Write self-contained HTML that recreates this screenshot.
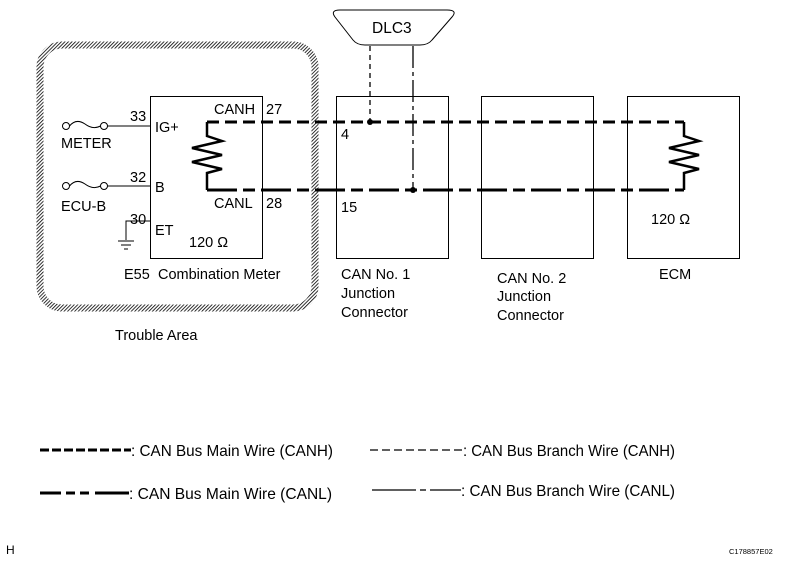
<!DOCTYPE html>
<html><head><meta charset="utf-8"><style>
html,body{margin:0;padding:0;background:#fff;}
svg{display:block;}
text{font-family:"Liberation Sans",Arial,sans-serif;font-size:14.5px;fill:#000;}
.lg{font-size:16px;}
</style></head><body>
<svg width="785" height="566" viewBox="0 0 785 566" xmlns="http://www.w3.org/2000/svg">
<defs>
<pattern id="hat" width="2.5" height="2.5" patternUnits="userSpaceOnUse" patternTransform="rotate(45)">
<rect width="2.5" height="2.5" fill="#fff"/><line x1="0" y1="0" x2="0" y2="2.5" stroke="#000" stroke-width="1.6"/>
</pattern>
</defs>
<rect x="40" y="45" width="275" height="263" rx="22" fill="none" stroke="url(#hat)" stroke-width="7"/>
<g fill="none" stroke="#000" stroke-width="1">
<rect x="150.5" y="96.5" width="112" height="162"/>
<rect x="336.5" y="96.5" width="112" height="162"/>
<rect x="481.5" y="96.5" width="112" height="162"/>
<rect x="627.5" y="96.5" width="112" height="162"/>
<path d="M340 10 L447 10 Q458 10 452 17 L432 40 Q428 45 420 45 L365 45 Q357 45 353 40 L335 17 Q330 10 340 10 Z"/>
<circle cx="66" cy="126" r="3.5"/><circle cx="104" cy="126" r="3.5"/>
<path d="M69.5 126 Q76 118 85 124 Q93 130 100.5 126"/>
<line x1="107.5" y1="126" x2="150" y2="126"/>
<circle cx="66" cy="186" r="3.5"/><circle cx="104" cy="186" r="3.5"/>
<path d="M69.5 186 Q76 178 85 184 Q93 190 100.5 186"/>
<line x1="107.5" y1="186" x2="150" y2="186"/>
<polyline points="150,221 126,221 126,240"/>
<line x1="118" y1="241" x2="134" y2="241"/>
<line x1="121" y1="245" x2="131" y2="245"/>
<line x1="124" y1="249" x2="128" y2="249"/>
</g>
<g fill="none" stroke="#000" stroke-width="2.5">
<polyline points="207,122 207,136 222,141 192,148 222,155 192,162 222,169 207,173 207,190"/>
<polyline points="684,122 684,136 699,141 669,148 699,155 669,162 699,169 684,173 684,190"/>
</g>
<line x1="207" y1="122" x2="684" y2="122" stroke="#000" stroke-width="3" stroke-dasharray="12,6"/>
<line x1="207" y1="190" x2="684" y2="190" stroke="#000" stroke-width="3" stroke-dasharray="30,6,12,6"/>
<line x1="370" y1="46" x2="370" y2="122" stroke="#000" stroke-width="1.3" stroke-dasharray="5,4"/>
<line x1="413" y1="46" x2="413" y2="190" stroke="#000" stroke-width="1.3" stroke-dasharray="22,4,4,4"/>
<circle cx="370" cy="122" r="3"/><circle cx="413" cy="190" r="3"/>
<text x="372" y="33" style="font-size:15.5px">DLC3</text>
<text x="130" y="121">33</text>
<text x="155" y="132">IG+</text>
<text x="61" y="148">METER</text>
<text x="130" y="182">32</text>
<text x="155" y="192">B</text>
<text x="61" y="211">ECU-B</text>
<text x="130" y="224">30</text>
<text x="155" y="235">ET</text>
<text x="214" y="114">CANH</text>
<text x="266" y="114">27</text>
<text x="214" y="208">CANL</text>
<text x="266" y="208">28</text>
<text x="189" y="247">120 Ω</text>
<text x="124" y="279">E55</text>
<text x="158" y="279">Combination Meter</text>
<text x="341" y="139">4</text>
<text x="341" y="212">15</text>
<text x="341" y="279">CAN No. 1</text>
<text x="341" y="298">Junction</text>
<text x="341" y="317">Connector</text>
<text x="497" y="283">CAN No. 2</text>
<text x="497" y="301">Junction</text>
<text x="497" y="320">Connector</text>
<text x="651" y="224">120 Ω</text>
<text x="659" y="279">ECM</text>
<text x="115" y="340">Trouble Area</text>
<line x1="40" y1="450" x2="131" y2="450" stroke="#000" stroke-width="3" stroke-dasharray="9,3"/>
<text class="lg" x="131" y="456" textLength="202" lengthAdjust="spacingAndGlyphs">: CAN Bus Main Wire (CANH)</text>
<line x1="370" y1="450" x2="463" y2="450" stroke="#000" stroke-width="1.3" stroke-dasharray="8,4"/>
<text class="lg" x="463" y="456" textLength="212" lengthAdjust="spacingAndGlyphs">: CAN Bus Branch Wire (CANH)</text>
<line x1="40" y1="493" x2="61" y2="493" stroke="#000" stroke-width="3"/>
<line x1="66" y1="493" x2="75" y2="493" stroke="#000" stroke-width="3"/>
<line x1="80" y1="493" x2="89" y2="493" stroke="#000" stroke-width="3"/>
<line x1="95" y1="493" x2="129" y2="493" stroke="#000" stroke-width="3"/>
<text class="lg" x="129" y="499" textLength="203" lengthAdjust="spacingAndGlyphs">: CAN Bus Main Wire (CANL)</text>
<line x1="372" y1="490" x2="416" y2="490" stroke="#000" stroke-width="1.3"/>
<line x1="420" y1="490" x2="426" y2="490" stroke="#000" stroke-width="1.3"/>
<line x1="430" y1="490" x2="461" y2="490" stroke="#000" stroke-width="1.3"/>
<text class="lg" x="461" y="496" textLength="214" lengthAdjust="spacingAndGlyphs">: CAN Bus Branch Wire (CANL)</text>
<text x="6" y="554" style="font-size:12px">H</text>
<text x="729" y="554" style="font-size:7.5px">C178857E02</text>
</svg>
</body></html>
